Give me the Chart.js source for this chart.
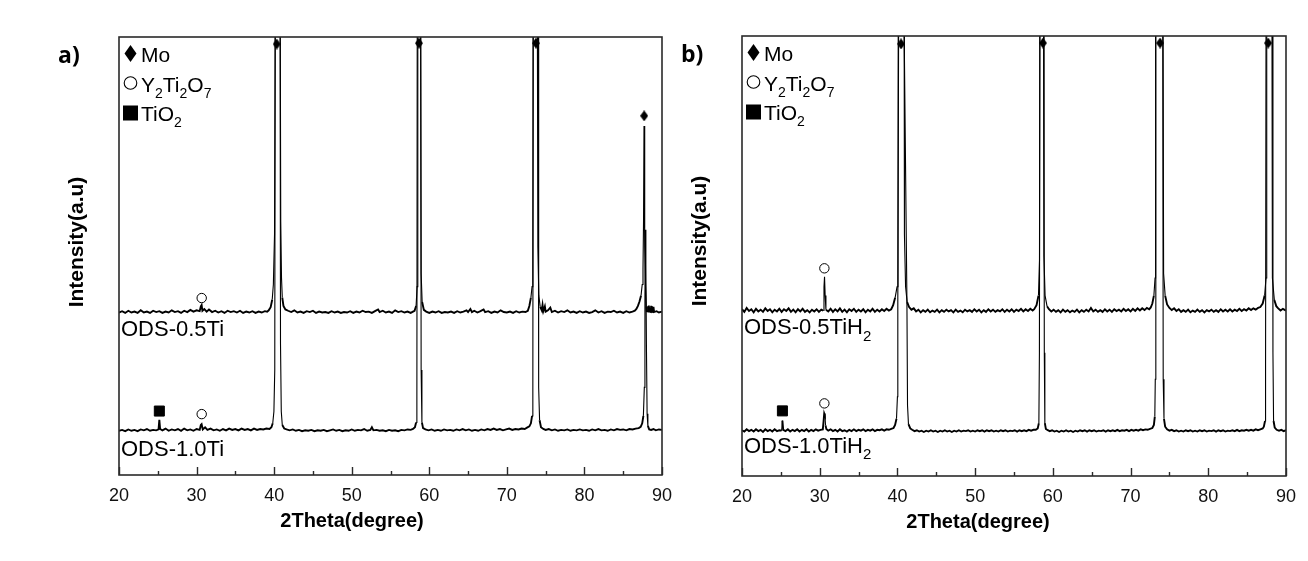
<!DOCTYPE html>
<html>
<head>
<meta charset="utf-8">
<script src="https://cdn.jsdelivr.net/npm/chart.js@4"></script>
<style>
  html, body { margin: 0; padding: 0; background: #fff; }
  #wrap { position: relative; width: 1308px; height: 561px; }
  canvas { position: absolute; top: 0; }
  #ca { left: 0; }
  #cb { left: 680px; }
</style>
</head>
<body>
<div id="wrap">
  <canvas id="ca" width="680" height="561"></canvas>
  <canvas id="cb" width="628" height="561"></canvas>
</div>
<script>
// 2theta (degree), intensity (a.u.); peaks run past the frame
const a05Ti = [
  [20,37.1],[20.4,37.4],[20.8,37.0],[21.2,37.5],[21.6,37.1],[22,37.3],[22.4,37.0],[22.8,37.6],[23.2,37.1],[23.6,37.3],
  [24,37.0],[24.4,37.5],[24.8,37.2],[25.2,37.4],[25.6,37.0],[26,37.3],[26.4,37.1],[26.8,37.6],[27.2,37.2],[27.6,37.4],
  [28,37.0],[28.4,37.5],[28.8,37.2],[29.2,37.7],[29.6,37.3],[30,37.6],[30.4,37.4],[30.55,38.5],[30.65,38.8],[30.75,37.5],
  [31,37.9],[31.3,37.3],[31.6,37.8],[32,37.2],[32.4,37.5],[32.8,37.1],[33.2,37.4],[33.6,37.0],[34,37.5],[34.4,37.2],
  [34.8,37.4],[35.2,37.1],[35.6,37.5],[36,37.0],[36.4,37.3],[36.8,37.1],[37.2,37.4],[37.6,37.0],[38,37.3],[38.4,37.1],
  [38.8,37.4],[39.1,37.3],[39.3,37.6],[39.55,38.3],[39.75,40],[39.9,43.5],[40.05,55],[40.2,130],[40.75,130],[40.85,58],
  [40.95,45],[41.05,40.5],[41.2,38.6],[41.45,37.8],[41.8,37.5],[42.2,37.2],[42.6,37.6],[43,37.1],[43.4,37.3],[43.8,37.0],
  [44.2,37.4],[44.6,37.2],[45,37.5],[45.4,37.0],[45.8,37.3],[46.2,37.1],[46.6,37.2],[47,37.0],[47.4,37.4],[47.8,37.1],
  [48.2,37.3],[48.6,37.0],[49,37.2],[49.4,37.1],[49.8,37.4],[50.2,37.0],[50.6,37.3],[51,37.1],[51.4,37.5],[51.8,37.2],
  [52.2,37.3],[52.6,37.0],[53,37.4],[53.4,37.8],[53.6,37.2],[54,37.5],[54.4,37.1],[54.8,37.3],[55.2,37.0],[55.6,37.6],
  [56,37.2],[56.4,37.4],[56.8,37.1],[57.2,37.3],[57.6,37.0],[57.9,37.3],[58.1,37.5],[58.3,38.6],[58.43,43],[58.52,130],
  [58.85,130],[58.95,46],[59.08,39.5],[59.3,37.7],[59.6,37.3],[60,37.0],[60.4,37.3],[60.8,37.1],[61.2,37.4],[61.6,37.0],
  [62,37.2],[62.4,37.1],[62.8,37.3],[63.2,37.0],[63.6,37.4],[64,37.1],[64.4,37.3],[64.8,37.6],[65,37.2],[65.3,37.9],
  [65.5,37.2],[65.8,37.5],[66.2,37.1],[66.6,37.4],[67,37.8],[67.2,37.2],[67.6,37.4],[68,37.0],[68.4,37.3],[68.8,37.1],
  [69.2,37.6],[69.6,37.2],[70,37.1],[70.4,37.3],[70.8,37.0],[71.2,37.4],[71.6,37.1],[72,37.3],[72.4,37.2],[72.7,37.5],
  [72.9,38.6],[73.1,40.5],[73.25,43],[73.35,48],[73.42,130],[73.9,130],[74.0,52],[74.12,41],[74.3,38.4],[74.5,37.6],
  [74.6,38.8],[74.7,37.4],[74.9,38.5],[75.0,37.3],[75.3,37.6],[75.6,38.2],[75.8,37.2],[76.2,37.5],[76.6,37.1],[77,37.4],
  [77.4,37.2],[77.8,37.6],[78.2,37.1],[78.6,37.3],[79,37.0],[79.4,37.4],[79.8,37.1],[80.2,37.3],[80.6,37.0],[81,37.2],
  [81.4,37.6],[81.8,37.1],[82.2,37.4],[82.6,37.0],[83,37.3],[83.4,37.2],[83.8,37.5],[84.2,37.1],[84.6,37.3],[85,37.0],
  [85.4,37.4],[85.8,37.1],[86.2,37.3],[86.5,37.5],[86.7,37.9],[86.9,38.6],[87.1,39.6],[87.3,41],[87.45,43.5],[87.55,47],
  [87.62,58],[87.68,79.7],[87.74,68],[87.8,52],[87.88,43],[87.97,38.5],[88.05,37.4],[88.25,37.3],[88.3,38.7],[88.38,37.3],
  [88.55,37.2],[88.6,38.6],[88.68,37.3],[88.85,37.2],[88.9,38.4],[88.98,37.2],[89.3,37.4],[89.6,37.1],[90,37.3]
];
const a10Ti = [
  [20,10.1],[20.4,10.3],[20.8,10.0],[21.2,10.4],[21.6,10.1],[22,10.3],[22.4,10.0],[22.8,10.4],[23.2,10.2],[23.6,10.5],
  [24,10.1],[24.4,10.3],[24.8,10.2],[25.1,10.4],[25.2,12.6],[25.3,10.5],[25.6,10.2],[26,10.6],[26.4,10.1],[26.8,10.4],
  [27.2,10.2],[27.6,10.5],[28,10.1],[28.4,10.6],[28.8,10.2],[29.2,10.4],[29.6,10.1],[30,10.5],[30.4,10.3],[30.55,11.4],
  [30.65,11.6],[30.8,10.4],[31.1,10.9],[31.4,10.3],[31.8,10.6],[32.2,10.2],[32.6,10.4],[33,10.1],[33.4,10.5],[33.8,10.2],
  [34.2,10.6],[34.6,10.3],[35,10.5],[35.4,10.2],[35.8,10.6],[36.2,10.3],[36.6,10.5],[37,10.2],[37.4,10.6],[37.8,10.3],
  [38.2,10.5],[38.6,10.4],[39,10.6],[39.4,10.5],[39.65,10.9],[39.82,11.8],[39.97,14.5],[40.08,24],[40.15,130],[40.75,130],
  [40.82,30],[40.92,14.5],[41.05,11.4],[41.3,10.6],[41.6,10.4],[42,10.2],[42.4,10.4],[42.8,10.1],[43.2,10.3],[43.6,10.0],
  [44,10.2],[44.4,10.1],[44.8,10.3],[45.2,10.0],[45.6,10.2],[46,10.1],[46.4,10.3],[46.8,10.0],[47.2,10.2],[47.6,10.4],
  [48,10.1],[48.4,10.3],[48.8,10.0],[49.2,10.2],[49.6,10.1],[50,10.4],[50.4,10.1],[50.8,10.3],[51.2,10.2],[51.6,10.5],
  [52,10.1],[52.4,10.3],[52.6,10.9],[52.8,10.2],[53.2,10.3],[53.6,10.1],[54,10.2],[54.4,10.0],[54.8,10.3],[55.2,10.1],
  [55.6,10.2],[56,10.0],[56.4,10.3],[56.8,10.2],[57.2,10.4],[57.6,10.3],[57.9,10.5],[58.15,10.9],[58.3,12],[58.4,18],
  [58.46,130],[58.88,130],[58.95,24],[59.05,12],[59.2,10.7],[59.5,10.4],[59.9,10.2],[60.3,10.4],[60.7,10.1],[61.1,10.3],
  [61.5,10.1],[61.9,10.4],[62.3,10.2],[62.7,10.3],[63.1,10.1],[63.5,10.4],[63.9,10.2],[64.3,10.5],[64.7,10.2],[65.1,10.4],
  [65.5,10.1],[65.9,10.3],[66.3,10.1],[66.7,10.4],[67.1,10.2],[67.5,10.5],[67.9,10.3],[68.3,10.6],[68.7,10.3],[69.1,10.5],
  [69.5,10.2],[69.9,10.4],[70.3,10.6],[70.7,10.3],[71.1,10.5],[71.5,10.4],[71.9,10.6],[72.3,10.5],[72.6,10.8],[72.9,11.1],
  [73.1,11.8],[73.25,13.5],[73.35,20],[73.4,130],[74.02,130],[74.1,20],[74.22,12.5],[74.4,10.9],[74.7,10.5],[75,10.3],
  [75.4,10.5],[75.8,10.2],[76.2,10.4],[76.6,10.1],[77,10.3],[77.4,10.2],[77.8,10.4],[78.2,10.1],[78.6,10.3],[79,10.2],
  [79.4,10.4],[79.8,10.2],[80.2,10.3],[80.6,10.1],[81,10.4],[81.4,10.2],[81.8,10.5],[82.2,10.2],[82.6,10.3],[83,10.1],
  [83.4,10.4],[83.8,10.2],[84.2,10.5],[84.6,10.3],[85,10.4],[85.4,10.2],[85.8,10.5],[86.2,10.4],[86.6,10.6],[87,10.7],
  [87.25,11],[87.45,11.8],[87.6,13.5],[87.72,20],[87.8,40],[87.86,56],[87.92,48],[88.0,28],[88.08,14],[88.18,11.2],
  [88.35,10.4],[88.6,10.3],[88.9,10.5],[89.2,10.2],[89.6,10.4],[90,10.3]
];
const b05TiH2 = [
  [20,37.9],[20.3,37.3],[20.6,38.2],[20.9,37.5],[21.2,37.9],[21.5,37.2],[21.8,38.0],[22.1,37.4],[22.4,37.8],[22.7,37.3],
  [23,38.1],[23.3,37.5],[23.6,37.9],[23.9,37.2],[24.2,37.8],[24.5,37.4],[24.8,38.0],[25.1,37.3],[25.4,37.9],[25.7,37.5],
  [26,38.1],[26.3,37.3],[26.6,37.8],[26.9,37.2],[27.2,37.9],[27.5,37.4],[27.8,38.0],[28.1,37.3],[28.4,37.7],[28.7,37.2],
  [29,37.8],[29.3,37.4],[29.6,37.9],[29.9,37.3],[30.2,37.8],[30.45,37.6],[30.55,43],[30.62,45.3],[30.7,41],[30.8,37.8],
  [31.1,37.4],[31.4,38.0],[31.7,37.3],[32,37.9],[32.3,37.4],[32.6,38.1],[32.9,37.3],[33.2,37.8],[33.5,37.2],[33.8,37.9],
  [34.1,37.5],[34.4,38.0],[34.7,37.3],[35,37.8],[35.3,37.4],[35.6,37.9],[35.9,37.2],[36.2,37.8],[36.5,37.4],[36.8,38.0],
  [37.1,37.3],[37.4,37.8],[37.7,37.4],[38,37.9],[38.3,37.5],[38.6,38.0],[38.9,37.6],[39.2,37.9],[39.45,38.8],[39.7,40.5],
  [39.95,43],[40.07,55],[40.12,130],[40.85,130],[40.9,55],[41.05,43],[41.25,39.5],[41.5,38.4],[41.8,37.8],[42.1,38.1],
  [42.4,37.4],[42.7,37.8],[43,37.2],[43.3,37.7],[43.6,37.3],[43.9,37.8],[44.2,37.2],[44.5,37.6],[44.8,37.3],[45.1,37.8],
  [45.4,37.2],[45.7,37.7],[46,37.3],[46.3,37.8],[46.6,37.4],[46.9,37.7],[47.2,37.2],[47.5,37.8],[47.8,37.3],[48.1,37.6],
  [48.4,37.2],[48.7,37.8],[49,37.4],[49.3,37.7],[49.6,37.3],[49.9,37.9],[50.2,37.4],[50.5,37.8],[50.8,37.2],[51.1,37.7],
  [51.4,37.3],[51.7,37.9],[52,37.4],[52.3,37.8],[52.6,37.3],[52.9,37.7],[53.2,37.4],[53.5,37.9],[53.8,37.3],[54.1,37.8],
  [54.4,37.4],[54.7,37.9],[55,37.3],[55.3,37.8],[55.6,37.5],[55.9,38.0],[56.2,37.4],[56.5,37.9],[56.8,37.5],[57.1,38.0],
  [57.4,37.6],[57.6,37.9],[57.9,38.8],[58.15,41],[58.28,49],[58.35,130],[58.78,130],[58.85,50],[59.0,41],[59.25,38.6],
  [59.5,37.9],[59.8,37.4],[60.1,37.8],[60.4,37.3],[60.7,37.7],[61,37.2],[61.3,37.8],[61.6,37.3],[61.9,37.7],[62.2,37.2],
  [62.5,37.6],[62.8,37.3],[63.1,37.8],[63.4,37.2],[63.7,37.7],[64,37.3],[64.3,37.8],[64.6,37.4],[64.9,38.2],[65.2,37.4],
  [65.5,37.8],[65.8,37.3],[66.1,37.7],[66.4,37.3],[66.7,37.9],[67,37.4],[67.3,37.8],[67.6,37.3],[67.9,37.9],[68.2,37.5],
  [68.5,37.8],[68.8,37.4],[69.1,38.0],[69.4,37.5],[69.7,37.9],[70,37.4],[70.3,38.0],[70.6,37.5],[70.9,38.1],[71.2,37.6],
  [71.5,38.1],[71.8,37.7],[72.1,38.2],[72.4,37.9],[72.6,38.3],[72.8,39.2],[73.0,41],[73.15,45],[73.22,130],[74.15,130],
  [74.25,46],[74.45,41],[74.7,39],[75.0,38.2],[75.3,37.7],[75.6,38.1],[75.9,37.5],[76.2,37.9],[76.5,37.3],[76.8,37.7],
  [77.1,37.3],[77.4,37.8],[77.7,37.2],[78,37.6],[78.3,37.3],[78.6,37.8],[78.9,37.3],[79.2,37.7],[79.5,37.2],[79.8,37.7],
  [80.1,37.4],[80.4,37.8],[80.7,37.3],[81,37.7],[81.3,37.3],[81.6,37.9],[81.9,37.4],[82.2,37.8],[82.5,37.4],[82.8,37.9],
  [83.1,37.4],[83.4,37.8],[83.7,37.5],[84,38.0],[84.3,37.5],[84.6,37.9],[84.9,37.6],[85.2,38.1],[85.5,37.7],[85.8,38.1],
  [86.1,37.8],[86.4,38.2],[86.7,38.4],[87.0,39.2],[87.25,41],[87.43,45],[87.52,130],[88.17,130],[88.25,45],[88.5,40],
  [88.75,38.6],[89.0,38.1],[89.3,37.6],[89.6,38.0],[90,37.6]
];
const b10TiH2 = [
  [20,10.4],[20.3,10.1],[20.6,10.6],[20.9,10.2],[21.2,10.5],[21.5,10.1],[21.8,10.6],[22.1,10.2],[22.4,10.5],[22.7,10.0],
  [23,10.6],[23.3,10.2],[23.6,10.5],[23.9,10.1],[24.2,10.6],[24.5,10.2],[24.8,10.4],[25.1,10.3],[25.2,12.6],[25.3,10.5],
  [25.6,10.2],[25.9,10.6],[26.2,10.1],[26.5,10.5],[26.8,10.2],[27.1,10.6],[27.4,10.1],[27.7,10.5],[28,10.2],[28.3,10.6],
  [28.6,10.1],[28.9,10.5],[29.2,10.2],[29.5,10.6],[29.8,10.3],[30.1,10.5],[30.4,10.6],[30.5,12.5],[30.58,14.2],[30.66,13.8],
  [30.75,11.5],[30.85,10.7],[31.1,10.3],[31.4,10.6],[31.7,10.2],[32,10.5],[32.3,10.1],[32.6,10.6],[32.9,10.2],[33.2,10.4],
  [33.5,10.1],[33.8,10.5],[34.1,10.2],[34.4,10.6],[34.7,10.2],[35,10.5],[35.3,10.3],[35.6,10.6],[35.9,10.2],[36.2,10.5],
  [36.5,10.3],[36.8,10.6],[37.1,10.2],[37.4,10.5],[37.7,10.4],[38,10.6],[38.3,10.3],[38.6,10.6],[38.9,10.5],[39.2,10.7],
  [39.5,10.9],[39.7,11.6],[39.88,13],[40.0,18],[40.05,40],[40.2,130],[40.7,130],[41.22,40],[41.3,16],[41.42,11.8],
  [41.65,10.8],[41.9,10.5],[42.2,10.2],[42.5,10.4],[42.8,10.1],[43.1,10.3],[43.4,10.0],[43.7,10.3],[44,10.1],[44.3,10.4],
  [44.6,10.1],[44.9,10.3],[45.2,10.0],[45.5,10.3],[45.8,10.1],[46.1,10.4],[46.4,10.1],[46.7,10.3],[47,10.0],[47.3,10.3],
  [47.6,10.1],[47.9,10.4],[48.2,10.1],[48.5,10.3],[48.8,10.2],[49.1,10.4],[49.4,10.1],[49.7,10.3],[50,10.1],[50.3,10.4],
  [50.6,10.2],[50.9,10.4],[51.2,10.1],[51.5,10.4],[51.8,10.2],[52.1,10.4],[52.4,10.1],[52.7,10.3],[53,10.1],[53.3,10.4],
  [53.6,10.2],[53.9,10.4],[54.2,10.1],[54.5,10.3],[54.8,10.2],[55.1,10.4],[55.4,10.1],[55.7,10.4],[56,10.2],[56.3,10.4],
  [56.6,10.2],[56.9,10.5],[57.2,10.3],[57.5,10.5],[57.8,10.5],[58.05,10.8],[58.2,12],[58.27,28],[58.35,130],[58.82,130],
  [58.9,28],[58.97,12],[59.1,10.7],[59.35,10.4],[59.6,10.2],[59.9,10.4],[60.2,10.1],[60.5,10.3],[60.8,10.0],[61.1,10.3],
  [61.4,10.1],[61.7,10.4],[62,10.1],[62.3,10.3],[62.6,10.0],[62.9,10.3],[63.2,10.1],[63.5,10.4],[63.8,10.2],[64.1,10.4],
  [64.4,10.1],[64.7,10.4],[65,10.2],[65.3,10.4],[65.6,10.1],[65.9,10.3],[66.2,10.2],[66.5,10.4],[66.8,10.1],[67.1,10.4],
  [67.4,10.2],[67.7,10.4],[68,10.2],[68.3,10.5],[68.6,10.2],[68.9,10.4],[69.2,10.3],[69.5,10.5],[69.8,10.2],[70.1,10.5],
  [70.4,10.3],[70.7,10.5],[71,10.3],[71.3,10.6],[71.6,10.4],[71.9,10.6],[72.2,10.5],[72.5,10.7],[72.8,10.9],[73.0,11.6],
  [73.12,13.5],[73.18,22],[73.25,130],[74.12,130],[74.2,22],[74.3,13],[74.45,11.2],[74.7,10.6],[75,10.3],[75.3,10.5],
  [75.6,10.2],[75.9,10.4],[76.2,10.1],[76.5,10.3],[76.8,10.1],[77.1,10.4],[77.4,10.2],[77.7,10.4],[78,10.1],[78.3,10.3],
  [78.6,10.1],[78.9,10.4],[79.2,10.2],[79.5,10.4],[79.8,10.1],[80.1,10.3],[80.4,10.2],[80.7,10.4],[81,10.1],[81.3,10.4],
  [81.6,10.2],[81.9,10.4],[82.2,10.1],[82.5,10.3],[82.8,10.2],[83.1,10.4],[83.4,10.2],[83.7,10.5],[84,10.2],[84.3,10.4],
  [84.6,10.3],[84.9,10.5],[85.2,10.3],[85.5,10.5],[85.8,10.3],[86.1,10.6],[86.4,10.4],[86.7,10.6],[87.0,10.8],[87.15,11.2],
  [87.3,12.5],[87.37,25],[87.45,130],[88.25,130],[88.32,28],[88.4,12.5],[88.55,11],[88.8,10.5],[89.1,10.3],[89.4,10.5],
  [89.7,10.2],[90,10.4]
];

// phase markers above the peaks
const moA = [[40.33, 98.4], [58.67, 98.6], [73.75, 98.6], [87.7, 82.0]];
const y2ti2o7A = [[30.66, 40.4], [30.66, 13.9]];
const tio2A = [[25.2, 14.6]];
const moB = [[40.46, 98.2], [58.72, 98.4], [73.8, 98.4], [87.7, 98.4]];
const y2ti2o7B = [[30.6, 47.2], [30.6, 16.5]];
const tio2B = [[25.2, 14.8]];

const majorTicks = [20, 30, 40, 50, 60, 70, 80, 90];
const minorTicks = [25, 35, 45, 55, 65, 75, 85];
const xTickLabels = ['20', '30', '40', '50', '60', '70', '80', '90'];

const SANS = '"Liberation Sans", Arial, sans-serif';

function diamondImage(w, h) {
  const c = document.createElement('canvas');
  c.width = w;
  c.height = h;
  const g = c.getContext('2d');
  g.fillStyle = '#000';
  g.beginPath();
  g.moveTo(w / 2, 0);
  g.lineTo(w, h / 2);
  g.lineTo(w / 2, h);
  g.lineTo(0, h / 2);
  g.closePath();
  g.fill();
  return c;
}

// text with subscripts: parts = [[text, isSub], ...]
function rich(ctx, parts, x, y, size, weight = '') {
  ctx.textAlign = 'left';
  ctx.textBaseline = 'alphabetic';
  for (const [t, sub] of parts) {
    const s = sub ? Math.round(size * 0.66) : size;
    ctx.font = `${weight}${s}px ${SANS}`;
    ctx.fillText(t, x, sub ? y + size * 0.3 : y);
    x += ctx.measureText(t).width;
  }
}

const decor = {
  id: 'decor',
  afterDraw(chart, args, o) {
    const { ctx, chartArea: a, scales: { x, y } } = chart;
    ctx.save();
    ctx.fillStyle = '#000';
    ctx.strokeStyle = '#2a2a2a';

    ctx.lineWidth = 1.6;
    ctx.strokeRect(a.left, a.top, a.right - a.left, a.bottom - a.top);

    ctx.lineWidth = 1.4;
    ctx.beginPath();
    majorTicks.forEach((v) => {
      const px = Math.round(x.getPixelForValue(v)) + 0.5;
      ctx.moveTo(px, a.bottom);
      ctx.lineTo(px, a.bottom - 8);
    });
    minorTicks.forEach((v) => {
      const px = Math.round(x.getPixelForValue(v)) + 0.5;
      ctx.moveTo(px, a.bottom);
      ctx.lineTo(px, a.bottom - 4);
    });
    ctx.stroke();

    ctx.fillStyle = '#111';
    ctx.font = `18px ${SANS}`;
    ctx.textAlign = 'center';
    majorTicks.forEach((v, i) => ctx.fillText(xTickLabels[i], x.getPixelForValue(v), a.bottom + 26));

    ctx.fillStyle = '#000';
    ctx.font = `bold 20px ${SANS}`;
    ctx.fillText('2Theta(degree)', a.left + o.xTitleDx, a.bottom + 52);

    ctx.save();
    ctx.translate(a.left - 36, a.top + 205);
    ctx.rotate(-Math.PI / 2);
    ctx.font = `bold 21px ${SANS}`;
    ctx.textAlign = 'center';
    ctx.fillText('Intensity(a.u)', 0, 0);
    ctx.restore();

    ctx.font = 'bold 23px "Open Sans", sans-serif';
    ctx.textAlign = 'left';
    ctx.fillText(o.tag, a.left - 61, a.top + 26);

    // legend
    const sx = a.left + 11.5;
    ctx.beginPath();
    ctx.moveTo(sx, a.top + 8);
    ctx.lineTo(sx + 6, a.top + 16.5);
    ctx.lineTo(sx, a.top + 25);
    ctx.lineTo(sx - 6, a.top + 16.5);
    ctx.closePath();
    ctx.fill();
    ctx.lineWidth = 1.1;
    ctx.strokeStyle = '#000';
    ctx.beginPath();
    ctx.arc(sx, a.top + 46, 6.3, 0, Math.PI * 2);
    ctx.stroke();
    ctx.fillRect(sx - 7.5, a.top + 68.5, 15, 15);
    rich(ctx, [['Mo', 0]], a.left + 22, a.top + 25, 21);
    rich(ctx, [['Y', 0], ['2', 1], ['Ti', 0], ['2', 1], ['O', 0], ['7', 1]], a.left + 22, a.top + 55, 21);
    rich(ctx, [['TiO', 0], ['2', 1]], a.left + 22, a.top + 84, 21);

    o.labels.forEach((l) => rich(ctx, l.parts, a.left + 2, y.getPixelForValue(l.y), 22));
    ctx.restore();
  },
};

const moMark = diamondImage(8, 11);

function traceSet(data) {
  return {
    type: 'line',
    data,
    borderColor: '#000',
    borderWidth: 1.9,
    pointRadius: 0,
    tension: 0,
    segment: {
      borderWidth: (c) => (Math.abs(c.p1.y - c.p0.y) > 10 ? 1.1 : 1.9),
    },
  };
}

function markerSet(data, style, radius, fill) {
  return {
    type: 'scatter',
    data,
    pointStyle: style,
    pointRadius: radius,
    pointBorderWidth: 1,
    borderColor: '#000',
    backgroundColor: fill,
    clip: false,
  };
}

function drawPanel(id, pad, traces, mo, y2, ti, o) {
  new Chart(document.getElementById(id), {
    data: {
      datasets: [
        ...traces.map(traceSet),
        markerSet(mo, moMark, 5, '#000'),
        markerSet(y2, 'circle', 4.7, '#fff'),
        markerSet(ti, 'rect', 7.1, '#000'),
      ],
    },
    options: {
      responsive: false,
      animation: false,
      events: [],
      layout: { padding: pad },
      plugins: { legend: { display: false }, tooltip: { enabled: false }, decor: o },
      scales: {
        x: { type: 'linear', min: 20, max: 90, display: false },
        y: { type: 'linear', min: 0, max: 100, display: false },
      },
    },
    plugins: [decor],
  });
}

drawPanel('ca', { left: 119, top: 37, right: 18, bottom: 86 }, [a05Ti, a10Ti], moA, y2ti2o7A, tio2A, {
  tag: 'a)',
  xTitleDx: 233,
  labels: [
    { parts: [['ODS-0.5Ti', 0]], y: 31.7 },
    { parts: [['ODS-1.0Ti', 0]], y: 4.3 },
  ],
});

drawPanel('cb', { left: 62, top: 36, right: 22, bottom: 85 }, [b05TiH2, b10TiH2], moB, y2ti2o7B, tio2B, {
  tag: 'b)',
  xTitleDx: 236,
  labels: [
    { parts: [['ODS-0.5TiH', 0], ['2', 1]], y: 32.2 },
    { parts: [['ODS-1.0TiH', 0], ['2', 1]], y: 5.3 },
  ],
});
</script>
</body>
</html>
